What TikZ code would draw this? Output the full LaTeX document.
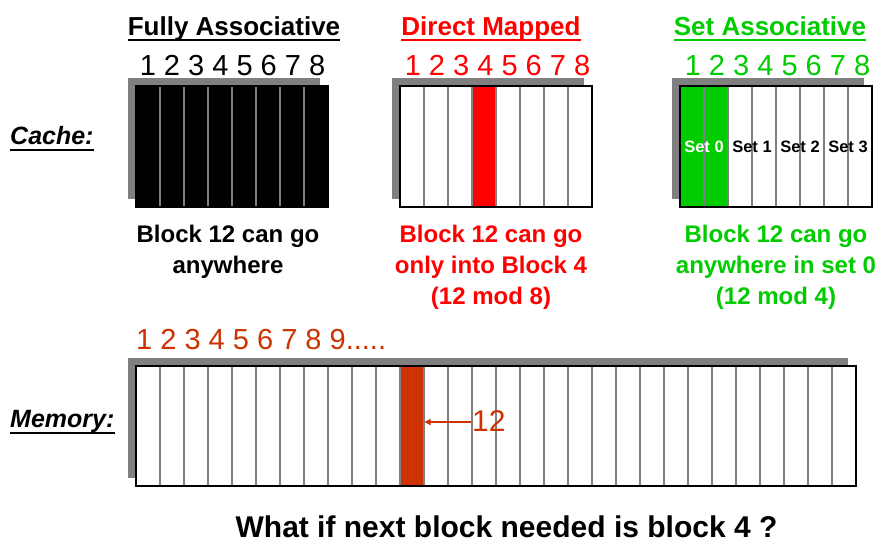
\documentclass[tikz,border=0pt]{standalone}
\usepackage{fontspec}
\setmainfont{Liberation Sans}
\usetikzlibrary{arrows.meta,calc}
\definecolor{dmred}{RGB}{255,0,0}
\definecolor{sagreen}{RGB}{0,204,0}
\definecolor{memred}{RGB}{204,51,0}
\definecolor{shadowgray}{RGB}{128,128,128}
\tikzset{
  titletext/.style={font=\fontsize{26}{30}\selectfont\bfseries, anchor=base, inner sep=0pt},
  digitrow/.style={font=\fontsize{29}{32}\selectfont, anchor=base, inner sep=0pt},
  infotext/.style={font=\fontsize{24}{28}\selectfont\bfseries, anchor=base, inner sep=0pt},
  sidetext/.style={font=\fontsize{25}{30}\selectfont\bfseries\itshape, anchor=base west, inner sep=0pt},
  settext/.style={font=\fontsize{16.5}{18}\selectfont\bfseries, inner sep=0pt},
  divider/.style={draw=shadowgray, line width=2pt},
  frame/.style={draw=black, line width=1.5pt},
  shadowbox/.style={fill=shadowgray},
  uline/.style={line width=2pt}
}
\begin{document}
\begin{tikzpicture}[x=1pt,y=-1pt]
\useasboundingbox[fill=white] (0,0) rectangle (892,544);

% ---------- titles ----------
\node[titletext] (tfa) at (234,35) {Fully Associative};
\node[titletext, text=dmred] (tdm) at (491,35) {Direct Mapped};
\node[titletext, text=sagreen] (tsa) at (770,35) {Set Associative};
\draw[uline] ($(tfa.base west)+(0,5)$) -- ($(tfa.base east)+(0,5)$);
\draw[uline, dmred] ($(tdm.base west)+(0,5)$) -- ($(tdm.base east)+(0,5)$);
\draw[uline, sagreen] ($(tsa.base west)+(0,5)$) -- ($(tsa.base east)+(0,5)$);

% ---------- digit rows ----------
\node[digitrow] (dfa) at (232.5,75) {1 2 3 4 5 6 7 8};
\node[digitrow, text=dmred] (ddm) at (497.5,75) {1 2 3 4 5 6 7 8};
\node[digitrow, text=sagreen] (dsa) at (777.5,75) {1 2 3 4 5 6 7 8};

% ---------- fully associative cache ----------
\fill[shadowbox] (128,78) rectangle (320,199);
\fill[black] (136,86) rectangle (328,207);
\foreach \i in {1,...,7} \draw[divider] ({136+24*\i},86) -- ({136+24*\i},207);
\draw[frame] (136,86) rectangle (328,207);

% ---------- direct mapped cache ----------
\fill[shadowbox] (392,78) rectangle (584,199);
\fill[white] (400,86) rectangle (592,207);
\fill[dmred] (472,86) rectangle (496,207);
\foreach \i in {1,...,7} \draw[divider] ({400+24*\i},86) -- ({400+24*\i},207);
\draw[frame] (400,86) rectangle (592,207);

% ---------- set associative cache ----------
\fill[shadowbox] (672,78) rectangle (864,199);
\fill[white] (680,86) rectangle (872,207);
\fill[sagreen] (680,86) rectangle (728,207);
\foreach \i in {1,...,7} \draw[divider] ({680+24*\i},86) -- ({680+24*\i},207);
\draw[frame] (680,86) rectangle (872,207);
\node[settext, text=white] (s0) at (704,147) {Set 0};
\node[settext] (s1) at (752,147) {Set 1};
\node[settext] (s2) at (800,147) {Set 2};
\node[settext] (s3) at (848,147) {Set 3};

% ---------- side labels ----------
\node[sidetext] (lcache) at (10,144) {Cache:};
\draw[uline] ($(lcache.base west)+(0,6)$) -- ($(lcache.base east)+(0,6)$);
\node[sidetext] (lmem) at (10,427) {Memory:};
\draw[uline] ($(lmem.base west)+(0,6)$) -- ($(lmem.base east)+(0,6)$);

% ---------- explanations ----------
\node[infotext] (fa1) at (228,242) {Block 12 can go};
\node[infotext] (fa2) at (228,273) {anywhere};
\node[infotext, text=dmred] (dm1) at (491,242) {Block 12 can go};
\node[infotext, text=dmred] (dm2) at (491,273) {only into Block 4};
\node[infotext, text=dmred] (dm3) at (491,304) {(12 mod 8)};
\node[infotext, text=sagreen] (sa1) at (776,242) {Block 12 can go};
\node[infotext, text=sagreen] (sa2) at (776,273) {anywhere in set 0};
\node[infotext, text=sagreen] (sa3) at (776,304) {(12 mod 4)};

% ---------- memory ----------
\node[digitrow, anchor=base west, text=memred] (dmem) at (136,349) {1 2 3 4 5 6 7 8 9.....};
\fill[shadowbox] (128,358) rectangle (848,478);
\fill[white] (136,366) rectangle (856,486);
\fill[memred] (400,366) rectangle (424,486);
\foreach \i in {1,...,29} \draw[divider] ({136+24*\i},366) -- ({136+24*\i},486);
\draw[frame] (136,366) rectangle (856,486);
\coordinate (blk12) at (424.5,422);
\node[font=\fontsize{30}{32}\selectfont, text=memred, anchor=west, inner sep=1pt] (n12) at (471,421) {12};
\draw[memred, line width=1.2pt, -{Triangle[length=6pt,width=6pt]}] (n12.west |- blk12) -- (blk12);

% ---------- question ----------
\node[font=\fontsize{30}{33}\selectfont\bfseries, anchor=base, inner sep=0pt] (q) at (506.5,537) {What if next block needed is block 4 ?};
\end{tikzpicture}
\end{document}
